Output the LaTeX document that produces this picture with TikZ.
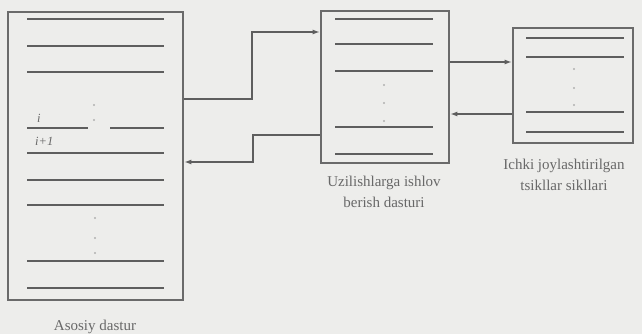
\documentclass[tikz,border=0pt]{standalone}
\usepackage{fontspec}
\setmainfont{Liberation Serif}
\usetikzlibrary{arrows.meta}
\definecolor{bg}{HTML}{EDEDEB}
\definecolor{boxc}{HTML}{6A6A6A}
\definecolor{linec}{HTML}{5E5E5E}
\definecolor{txtc}{HTML}{686868}
\definecolor{dotc}{HTML}{B0B0B0}
\tikzset{
  blk/.style={draw=boxc, line width=2.8pt, rectangle, inner sep=0pt},
  rowline/.style={draw=linec, line width=1.1pt},
  conn/.style={draw=linec, line width=1.1pt, -{Latex[length=7pt,width=5pt]}},
  lbl/.style={text=txtc, font=\fontsize{15}{21}\selectfont, align=center, inner sep=0pt},
  vdot/.style={fill=dotc, draw=none, circle, inner sep=0pt, minimum size=2.4pt},
}
\begin{document}
\begin{tikzpicture}[x=1pt,y=-1pt]
\fill[bg] (0,0) rectangle (642,334);
\useasboundingbox (0,0) rectangle (642,334);
% boxes
\node[blk, minimum width=175pt, minimum height=288pt] (M) at (95.5,156) {};
\node[blk, minimum width=128pt, minimum height=152pt] (U) at (385,87) {};
\node[blk, minimum width=120pt, minimum height=115pt] (I) at (573,85.5) {};
% main box rows
\foreach \y in {19,46,72,153,180,205,261,288} \draw[rowline] (27,\y) -- (164,\y);
\draw[rowline] (27,128) -- (88,128);
\draw[rowline] (110,128) -- (164,128);
\node[text=txtc, font=\fontsize{12.5}{12}\selectfont\itshape, anchor=base west, inner sep=0pt] (li) at (37,123) {i};
\node[text=txtc, font=\fontsize{12.5}{12}\selectfont\itshape, anchor=base west, inner sep=0pt] (li1) at (35,146) {i+1};
\foreach \y in {105,120} \node[vdot] at (94,\y) {};
\foreach \y in {218,238,253} \node[vdot] at (95,\y) {};
% middle box rows
\foreach \y in {19,44,71,127,154} \draw[rowline] (335,\y) -- (433,\y);
\foreach \y in {85,103,121} \node[vdot] at (384,\y) {};
% right box rows
\foreach \y in {38,57,112,132} \draw[rowline] (526,\y) -- (624,\y);
\foreach \y in {69,88,105} \node[vdot] at (574,\y) {};
% connectors
\coordinate (k1) at (252,32);
\coordinate (k2) at (253,135);
\draw[conn] (M.east |- 0,99) -| (k1) -- (U.west |- k1);
\draw[conn] (U.west |- k2) -| (253,162) -- (M.east |- 0,162);
\draw[conn] (U.east |- 0,62) -- (I.west |- 0,62);
\draw[conn] (I.west |- 0,114) -- (U.east |- 0,114);
% labels
\node[lbl, anchor=base] (lm) at (95,330) {Asosiy dastur};
\node[lbl, anchor=base] (lu) at (384,207) {Uzilishlarga ishlov\\berish dasturi};
\node[lbl, anchor=base] (lr) at (564,190) {Ichki joylashtirilgan\\tsikllar sikllari};
\end{tikzpicture}
\end{document}
